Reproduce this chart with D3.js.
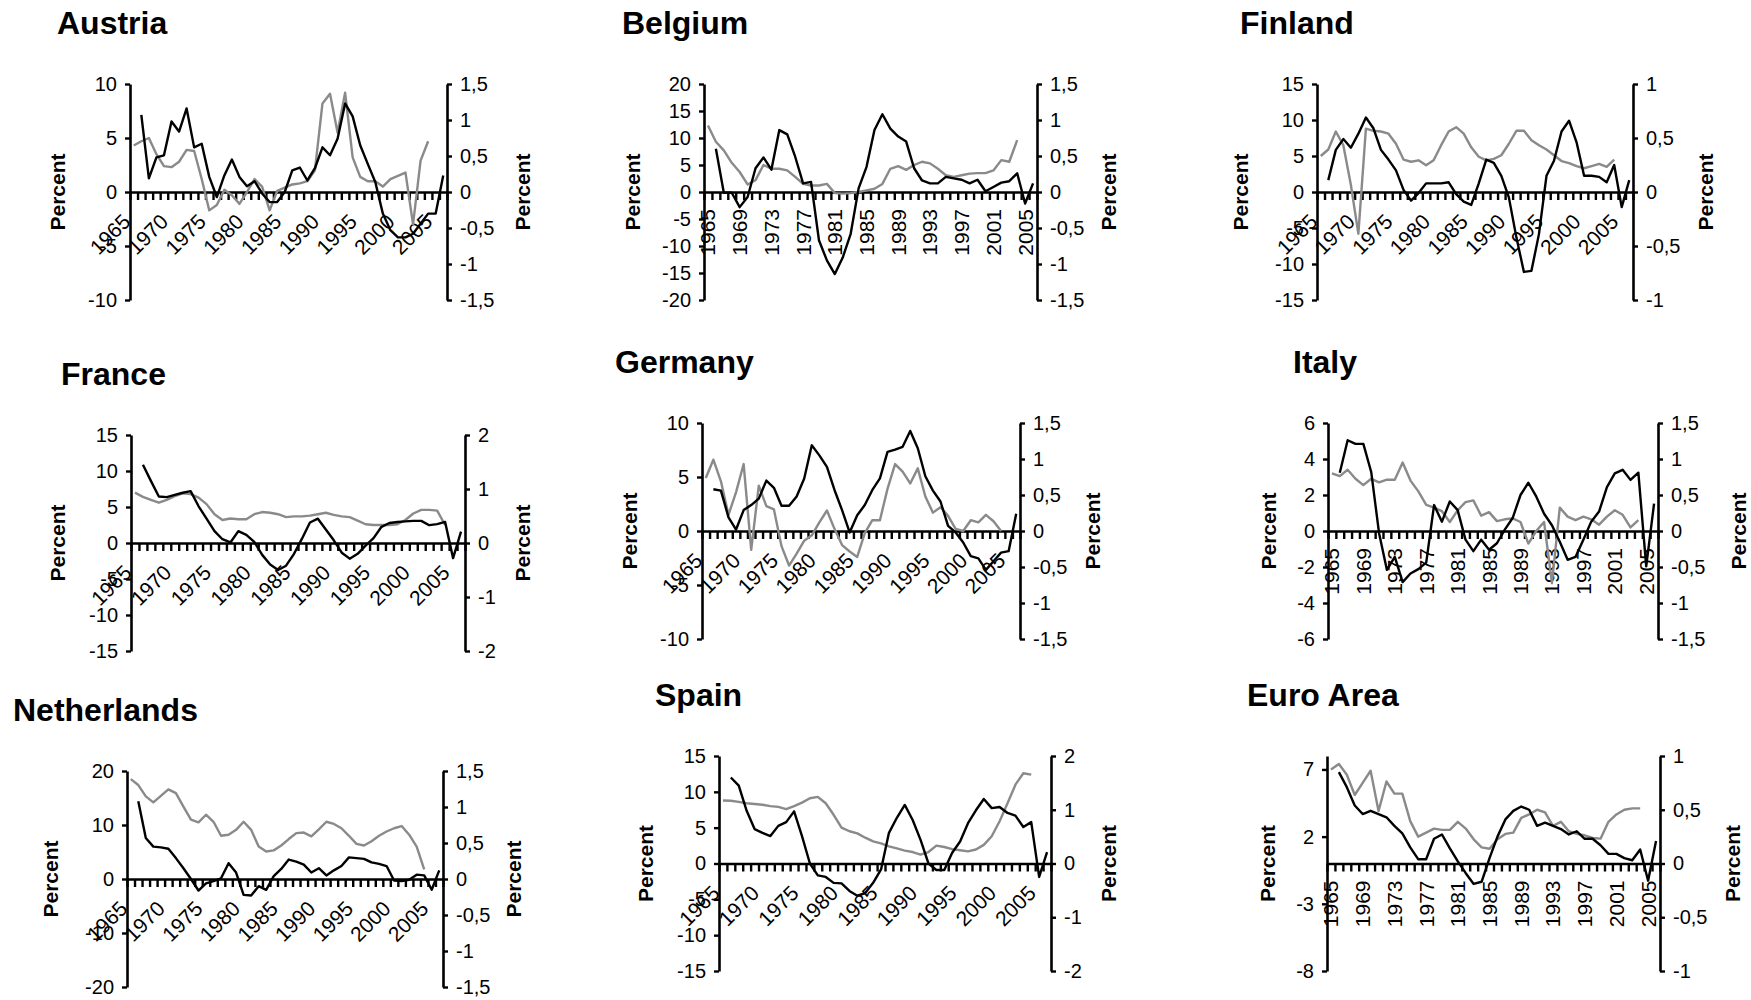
<!DOCTYPE html>
<html>
<head>
<meta charset="utf-8">
<script src="https://cdnjs.cloudflare.com/ajax/libs/d3/7.8.5/d3.min.js"></script>
<style>
  body { margin: 0; background: #fff; }
  svg { display: block; font-family: "Liberation Sans", Arial, sans-serif; }
</style>
</head>
<body>
<svg width="1751" height="1000"></svg>
<script>
// categories: one per year, the grey series starts in 1965, the black one in 1966
const years = [1965, 1966, 1967, 1968, 1969, 1970, 1971, 1972, 1973, 1974, 1975, 1976, 1977, 1978,
    1979, 1980, 1981, 1982, 1983, 1984, 1985, 1986, 1987, 1988, 1989, 1990, 1991, 1992, 1993, 1994,
    1995, 1996, 1997, 1998, 1999, 2000, 2001, 2002, 2003, 2004, 2005, 2006];
const fiveYearLabels = [1965, 1970, 1975, 1980, 1985, 1990, 1995, 2000, 2005];
const fourYearLabels = [1965, 1969, 1973, 1977, 1981, 1985, 1989, 1993, 1997, 2001, 2005];

// tick values
const ticks6 = [-6, -4, -2, 0, 2, 4, 6];
const ticks8 = [-8, -3, 2, 7];
const ticks10 = [-10, -5, 0, 5, 10];
const ticks15 = [-15, -10, -5, 0, 5, 10, 15];
const ticks20 = [-20, -15, -10, -5, 0, 5, 10, 15, 20];
const ticks20wide = [-20, -10, 0, 10, 20];
const ticksR1 = [-1, -0.5, 0, 0.5, 1];
const ticksR15 = [-1.5, -1, -0.5, 0, 0.5, 1, 1.5];
const ticksR2 = [-2, -1, 0, 1, 2];

// grey series (left axis, from 1965) and black series (right axis, from 1966)
const austriaLeft = [4.3, 4.7, 5.0, 3.5, 2.4, 2.3, 2.8, 3.9, 3.8, 1.2, -1.7, -1.2, 0.2, -0.3, -1.1, 0.0, 1.2, 0.5, -1.7, 0.1,
    0.4, 0.7, 0.8, 1.0, 2.0, 8.2, 9.1, 5.5, 9.2, 3.2, 1.4, 1.0, 1.0, 0.5, 1.2, 1.5, 1.8, -3.0, 2.9, 4.7];
const austriaRight = [1.07, 0.19, 0.48, 0.51, 0.98, 0.84, 1.16, 0.62, 0.67, 0.21, -0.07, 0.23, 0.45, 0.21, 0.08, 0.15, -0.02,
    -0.14, -0.14, 0.0, 0.30, 0.34, 0.16, 0.33, 0.62, 0.51, 0.74, 1.23, 1.05, 0.65, 0.39, 0.14, -0.30, -0.53, -0.63, -0.63,
    -0.58, -0.44, -0.30, -0.30, 0.23];

const belgiumLeft = [12.3, 9.3, 7.7, 5.4, 3.7, 1.4, 2.2, 5.0, 4.3, 4.3, 4.0, 2.8, 1.5, 1.2, 1.2, 1.5, -0.2, -0.3, -0.2, 0.0,
    0.3, 0.6, 1.5, 4.3, 4.8, 4.1, 5.0, 5.6, 5.3, 4.3, 3.1, 2.8, 3.1, 3.4, 3.5, 3.5, 4.0, 5.9, 5.6, 9.6];
const belgiumRight = [0.60, -0.01, -0.01, -0.21, -0.07, 0.33, 0.48, 0.31, 0.86, 0.80, 0.49, 0.12, 0.14, -0.67, -0.95, -1.14,
    -0.91, -0.58, 0.05, 0.35, 0.86, 1.08, 0.88, 0.77, 0.70, 0.33, 0.16, 0.12, 0.12, 0.21, 0.19, 0.17, 0.12, 0.17, 0.01, 0.07,
    0.13, 0.15, 0.26, -0.16, 0.12];

const finlandLeft = [5.0, 5.9, 8.4, 6.5, 1.0, -5.8, 8.8, 8.5, 8.4, 8.1, 6.7, 4.5, 4.2, 4.4, 3.7, 4.4, 6.5, 8.4, 9.0, 8.1,
    6.2, 4.9, 4.4, 4.6, 5.1, 6.7, 8.5, 8.5, 7.2, 6.5, 5.9, 5.1, 4.3, 4.0, 3.6, 3.3, 3.6, 3.9, 3.5, 4.5];
const finlandRight = [0.11, 0.39, 0.49, 0.41, 0.54, 0.69, 0.59, 0.39, 0.30, 0.20, 0.02, -0.08, -0.01, 0.08, 0.08, 0.08, 0.09,
    -0.02, -0.09, -0.12, 0.08, 0.30, 0.27, 0.15, -0.05, -0.42, -0.74, -0.73, -0.39, 0.15, 0.29, 0.56, 0.66, 0.46, 0.15, 0.15,
    0.14, 0.09, 0.25, -0.14, 0.11];

const franceLeft = [7.0, 6.4, 6.0, 5.6, 6.0, 6.5, 6.9, 6.8, 6.3, 5.4, 4.0, 3.2, 3.4, 3.3, 3.3, 4.0, 4.3, 4.2, 4.0, 3.6,
    3.7, 3.7, 3.8, 4.0, 4.2, 3.9, 3.7, 3.6, 3.1, 2.6, 2.5, 2.5, 2.5, 2.6, 3.2, 4.1, 4.6, 4.6, 4.5, 2.5];
const franceRight = [1.45, 1.15, 0.86, 0.85, 0.89, 0.93, 0.96, 0.68, 0.45, 0.22, 0.07, 0.01, 0.22, 0.15, 0.02, -0.22, -0.40,
    -0.50, -0.42, -0.20, 0.08, 0.38, 0.45, 0.25, 0.05, -0.18, -0.29, -0.20, -0.05, 0.09, 0.30, 0.37, 0.39, 0.40, 0.41, 0.41,
    0.33, 0.35, 0.39, -0.28, 0.21];

const germanyLeft = [4.9, 6.6, 4.6, 1.5, 3.6, 6.2, -1.75, 4.2, 2.3, 2.0, -1.4, -3.2, -2.1, -0.9, -0.4, 0.8, 1.9, 0.2, -1.3,
    -1.9, -2.4, -0.2, 1.0, 1.0, 3.9, 6.2, 5.5, 4.4, 5.8, 3.2, 1.7, 2.2, 1.4, 0.2, 0.0, 1.0, 0.8, 1.5, 0.9, 0.0];
const germanyRight = [0.58, 0.56, 0.19, 0.02, 0.29, 0.36, 0.45, 0.70, 0.60, 0.35, 0.35, 0.48, 0.73, 1.19, 1.05, 0.89, 0.57,
    0.29, -0.02, 0.22, 0.36, 0.57, 0.73, 1.10, 1.13, 1.17, 1.39, 1.15, 0.76, 0.56, 0.41, 0.07, -0.02, -0.16, -0.35, -0.38,
    -0.54, -0.42, -0.30, -0.28, 0.24];

const italyLeft = [3.2, 3.05, 3.4, 2.9, 2.55, 2.9, 2.7, 2.85, 2.85, 3.8, 2.8, 2.2, 1.45, 1.3, 1.1, 0.5, 1.15, 1.6, 1.7, 0.85,
    1.05, 0.55, 0.65, 0.7, 0.5, -0.7, 0.0, 0.5, -2.9, 1.3, 0.8, 0.6, 0.8, 0.65, 0.35, 0.8, 1.15, 0.9, 0.2, 0.6];
const italyRight = [0.81, 1.26, 1.21, 1.21, 0.82, -0.03, -0.54, -0.36, -0.71, -0.59, -0.53, -0.44, 0.36, 0.13, 0.41, 0.29,
    -0.12, -0.28, -0.12, -0.26, -0.17, 0.02, 0.18, 0.50, 0.67, 0.48, 0.24, 0.08, -0.15, -0.40, -0.36, -0.12, 0.13, 0.27, 0.61,
    0.80, 0.85, 0.71, 0.81, -0.49, 0.38];

const netherlandsLeft = [18.5, 17.4, 15.3, 14.2, 15.4, 16.6, 15.9, 13.4, 11.0, 10.5, 11.9, 10.6, 8.0, 8.2, 9.1, 10.6, 9.1,
    6.0, 5.1, 5.3, 6.2, 7.4, 8.5, 8.6, 7.9, 9.2, 10.6, 10.2, 9.4, 8.0, 6.5, 6.2, 7.0, 8.0, 8.8, 9.4, 9.8, 8.2, 6.0, 1.8];
const netherlandsRight = [1.08, 0.57, 0.45, 0.44, 0.42, 0.29, 0.15, 0.0, -0.16, -0.06, -0.03, 0.01, 0.22, 0.09, -0.22, -0.23,
    -0.10, -0.15, 0.04, 0.14, 0.27, 0.24, 0.20, 0.09, 0.15, 0.05, 0.12, 0.18, 0.30, 0.29, 0.28, 0.23, 0.21, 0.18, -0.02, -0.03,
    -0.01, 0.06, 0.05, -0.15, 0.12];

const spainLeft = [8.8, 8.75, 8.6, 8.4, 8.3, 8.2, 8.0, 7.9, 7.6, 8.0, 8.5, 9.1, 9.3, 8.4, 6.8, 5.0, 4.5, 4.2, 3.6, 3.1,
    2.8, 2.4, 2.1, 1.8, 1.6, 1.25, 1.6, 2.5, 2.3, 2.0, 1.85, 1.7, 1.95, 2.6, 3.8, 5.9, 8.4, 11.0, 12.6, 12.4];
const spainRight = [1.60, 1.45, 0.98, 0.64, 0.57, 0.51, 0.70, 0.77, 0.97, 0.51, 0.0, -0.22, -0.25, -0.36, -0.37, -0.51, -0.60,
    -0.55, -0.36, -0.11, 0.57, 0.85, 1.09, 0.81, 0.44, 0.0, -0.12, -0.12, 0.20, 0.41, 0.75, 0.99, 1.20, 1.03, 1.05, 0.94,
    0.89, 0.68, 0.77, -0.25, 0.21];

const euroLeft = [7.0, 7.4, 6.6, 5.1, 6.0, 6.9, 3.9, 6.1, 5.2, 5.2, 3.15, 2.0, 2.3, 2.6, 2.5, 2.5, 3.1, 2.6, 1.8, 1.2,
    1.1, 1.8, 2.2, 2.3, 3.4, 3.65, 4.0, 3.8, 2.8, 3.1, 2.4, 2.2, 2.1, 1.9, 1.85, 3.1, 3.65, 4.0, 4.1, 4.1];
const euroRight = [0.85, 0.71, 0.54, 0.46, 0.49, 0.46, 0.43, 0.35, 0.28, 0.15, 0.04, 0.04, 0.23, 0.27, 0.14, 0.02, -0.09,
    -0.19, -0.17, 0.05, 0.25, 0.41, 0.49, 0.53, 0.50, 0.35, 0.38, 0.35, 0.32, 0.27, 0.30, 0.23, 0.23, 0.17, 0.09, 0.09,
    0.05, 0.03, 0.13, -0.16, 0.21];

const panels = [
    { title: 'Austria', left: austriaLeft, right: austriaRight, leftMax: 10, leftTicks: ticks10, rightMax: 1.5, rightTicks: ticksR15,
      labels: fiveYearLabels, box: [130, 447, 84, 300], titleX: 57, pctL: -73, pctR: 75 },
    { title: 'Belgium', left: belgiumLeft, right: belgiumRight, leftMax: 20, leftTicks: ticks20, rightMax: 1.5, rightTicks: ticksR15,
      labels: fourYearLabels, box: [704, 1037, 84, 300], titleX: 622, pctL: -72, pctR: 71 },
    { title: 'Finland', left: finlandLeft, right: finlandRight, leftMax: 15, leftTicks: ticks15, rightMax: 1, rightTicks: ticksR1,
      labels: fiveYearLabels, box: [1317, 1633, 84, 300], titleX: 1240, pctL: -77, pctR: 72 },
    { title: 'France', left: franceLeft, right: franceRight, leftMax: 15, leftTicks: ticks15, rightMax: 2, rightTicks: ticksR2,
      labels: fiveYearLabels, box: [131, 465, 435, 651], titleX: 61, pctL: -74, pctR: 57 },
    { title: 'Germany', left: germanyLeft, right: germanyRight, leftMax: 10, leftTicks: ticks10, rightMax: 1.5, rightTicks: ticksR15,
      labels: fiveYearLabels, box: [702, 1020, 423, 639], titleX: 615, pctL: -73, pctR: 72 },
    { title: 'Italy', left: italyLeft, right: italyRight, leftMax: 6, leftTicks: ticks6, rightMax: 1.5, rightTicks: ticksR15,
      labels: fourYearLabels, box: [1328, 1658, 423, 639], titleX: 1293, pctL: -60, pctR: 80 },
    { title: 'Netherlands', left: netherlandsLeft, right: netherlandsRight, leftMax: 20, leftTicks: ticks20wide, rightMax: 1.5, rightTicks: ticksR15,
      labels: fiveYearLabels, box: [127, 443, 771, 987], titleX: 13, pctL: -77, pctR: 70 },
    { title: 'Spain', left: spainLeft, right: spainRight, leftMax: 15, leftTicks: ticks15, rightMax: 2, rightTicks: ticksR2,
      labels: fiveYearLabels, box: [719, 1051, 756, 971], titleX: 655, pctL: -74, pctR: 57 },
    { title: 'Euro Area', left: euroLeft, right: euroRight, leftMax: 8, leftTicks: ticks8, rightMax: 1, rightTicks: ticksR1,
      labels: fourYearLabels, box: [1327, 1660, 756, 971], titleX: 1247, pctL: -60, pctR: 72 }
];

const svg = d3.select('svg');
const GREY = '#8a8a8a';
// plain hyphen for negatives, comma as decimal mark
const plainFormat = d => String(d);
const commaFormat = d => String(d).replace('.', ',');

function styleAxis(g) {
    g.attr('font-size', null).attr('font-family', null);
    g.select('.domain').attr('stroke', '#000').attr('stroke-width', 2.6);
    g.selectAll('.tick line').attr('stroke', '#000').attr('stroke-width', 2.4);
    g.selectAll('.tick text').attr('font-size', '20px').attr('fill', '#000');
}

function drawPanel(p) {
    const [x0, x1, y0, y1] = p.box;
    const g = svg.append('g');

    const x = d3.scaleBand().domain(years).range([x0, x1]);
    const xEdge = d3.scaleLinear().domain([1965, 2007]).range([x0, x1]);
    const yL = d3.scaleLinear().domain([-p.leftMax, p.leftMax]).range([y1, y0]);
    const yR = d3.scaleLinear().domain([-p.rightMax, p.rightMax]).range([y1, y0]);
    const zero = yL(0);
    const mid = (y0 + y1) / 2;

    // title
    g.append('text')
        .attr('x', p.titleX)
        .attr('y', y0 - 50)
        .attr('font-size', '32px')
        .attr('font-weight', 'bold')
        .text(p.title);

    // y axes
    g.append('g')
        .attr('transform', `translate(${x0},0)`)
        .call(d3.axisLeft(yL).tickValues(p.leftTicks).tickSize(5).tickSizeOuter(0).tickPadding(8).tickFormat(plainFormat))
        .call(styleAxis);

    g.append('g')
        .attr('transform', `translate(${x1},0)`)
        .call(d3.axisRight(yR).tickValues(p.rightTicks).tickSize(5).tickSizeOuter(0).tickPadding(8).tickFormat(commaFormat))
        .call(styleAxis);

    // category axis crossing at zero, ticks between years
    g.append('g')
        .attr('transform', `translate(0,${zero})`)
        .call(d3.axisBottom(xEdge).tickValues(d3.range(1965, 2008)).tickSize(8).tickSizeOuter(0).tickFormat(''))
        .call(styleAxis);

    const vertical = p.labels === fourYearLabels;
    g.selectAll('text.year')
        .data(p.labels)
        .join('text')
        .attr('class', 'year')
        .attr('font-size', '21px')
        .attr('text-anchor', 'end')
        .attr('dominant-baseline', vertical ? 'central' : null)
        .attr('transform', d => {
            const cx = x(d) + x.bandwidth() / 2;
            return vertical
                ? `translate(${cx},${zero + 17}) rotate(-90)`
                : `translate(${cx - 2},${zero + 31}) rotate(-45)`;
        })
        .text(d => d);

    // axis titles
    g.append('text')
        .attr('transform', `translate(${x0 + p.pctL},${mid}) rotate(-90)`)
        .attr('text-anchor', 'middle')
        .attr('dominant-baseline', 'central')
        .attr('font-size', '21px')
        .attr('font-weight', 'bold')
        .text('Percent');

    g.append('text')
        .attr('transform', `translate(${x1 + p.pctR},${mid}) rotate(-90)`)
        .attr('text-anchor', 'middle')
        .attr('dominant-baseline', 'central')
        .attr('font-size', '21px')
        .attr('font-weight', 'bold')
        .text('Percent');

    // series
    const cx = d => x(d[0]) + x.bandwidth() / 2;

    g.append('path')
        .datum(p.left.map((v, i) => [years[i], v]))
        .attr('fill', 'none')
        .attr('stroke', GREY)
        .attr('stroke-width', 2.4)
        .attr('stroke-linejoin', 'round')
        .attr('d', d3.line().x(cx).y(d => yL(d[1])));

    g.append('path')
        .datum(p.right.map((v, i) => [years[i + 1], v]))
        .attr('fill', 'none')
        .attr('stroke', '#000')
        .attr('stroke-width', 2.4)
        .attr('stroke-linejoin', 'round')
        .attr('d', d3.line().x(cx).y(d => yR(d[1])));
}

panels.forEach(drawPanel);
</script>
</body>
</html>
